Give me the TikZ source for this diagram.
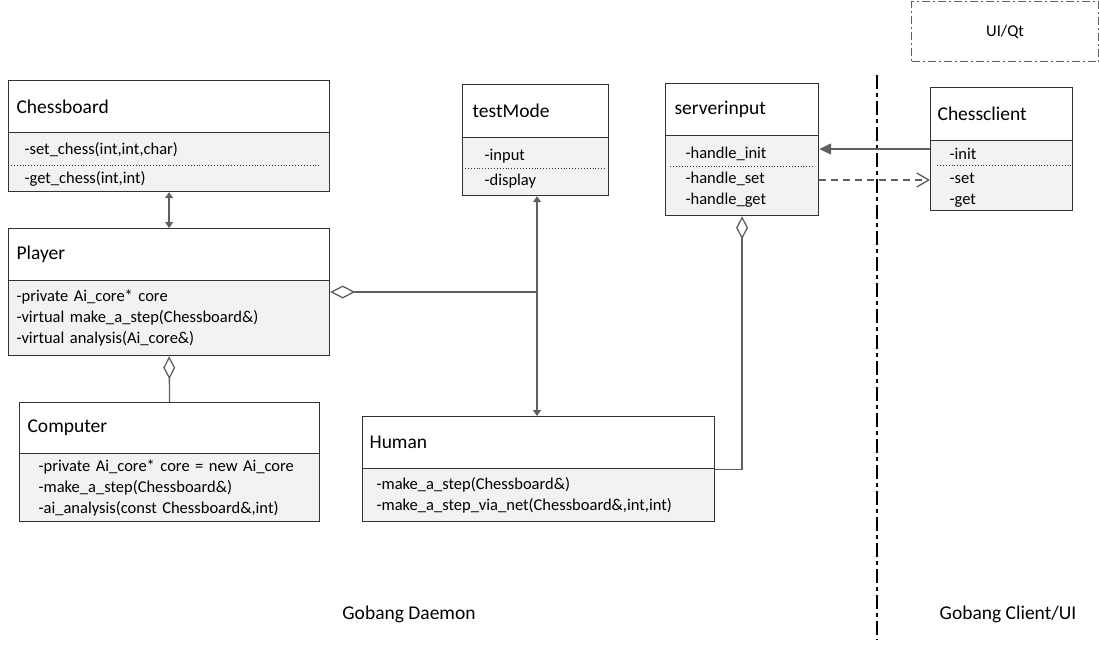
\documentclass[tikz,border=0pt]{standalone}
\usepackage{fontspec}
\setmainfont{Carlito}
\usetikzlibrary{arrows.meta}
\definecolor{edgegray}{RGB}{50,50,50}
\definecolor{linegray}{RGB}{95,95,95}
\definecolor{bodygray}{RGB}{242,242,242}

\begin{document}
\begin{tikzpicture}[x=1pt, y=-1pt,
    classhead/.style={draw=edgegray, fill=white, line width=1.2pt, anchor=north west,
        inner ysep=0pt, align=left, font=\fontsize{19.5}{23}\selectfont},
    classbody/.style={draw=edgegray, fill=bodygray, line width=1.2pt, anchor=north west,
        inner ysep=0pt, align=left, font=\fontsize{16.5}{21}\selectfont},
    sepline/.style={draw=edgegray, dotted, line width=0.9pt},
    link/.style={draw=linegray, line width=1.3pt},
    tip/.style={-{Triangle[length=6pt, width=8pt]}}
]
    \useasboundingbox (0,0) rectangle (1099,646);

    % Chessboard
    \node[classhead, inner xsep=8pt, text width=305pt, minimum height=52pt] (cb-head) at (8,80) {Chessboard};
    \node[classbody, inner xsep=16pt, text width=289pt, minimum height=59pt] (cb-body) at (8,132) {
        \rule{0pt}{17pt}-set\_chess(int,int,char)\\[8pt]
        -get\_chess(int,int)
    };
    \draw[sepline] (8,165) -- (321,165);

    % Player
    \node[classhead, inner xsep=8pt, text width=305pt, minimum height=52pt] (pl-head) at (8,228) {Player};
    \node[classbody, inner xsep=8pt, text width=305pt, minimum height=75pt] (pl-body) at (8,280) {
        -private Ai\_core* core\\
        -virtual make\_a\_step(Chessboard\&)\\
        -virtual analysis(Ai\_core\&)
    };

    % Computer
    \node[classhead, inner xsep=8pt, text width=284pt, minimum height=51pt] (cp-head) at (19,402) {Computer};
    \node[classbody, inner xsep=19pt, text width=262pt, minimum height=68pt] (cp-body) at (19,453) {
        -private Ai\_core* core = new Ai\_core\\
        -make\_a\_step(Chessboard\&)\\
        -ai\_analysis(const Chessboard\&,int)
    };

    % testMode
    \node[classhead, inner xsep=10pt, text width=126pt, minimum height=53pt] (tm-head) at (462,84) {testMode};
    \node[classbody, inner xsep=22pt, text width=102pt, minimum height=58pt] (tm-body) at (462,137) {
        \rule{0pt}{15pt}-input\\[4pt]
        -display
    };
    \draw[sepline] (462,168) -- (605,168);

    % Human
    \node[classhead, inner xsep=7pt, text width=338pt, minimum height=52pt] (hm-head) at (362,416) {Human};
    \node[classbody, inner xsep=14pt, text width=324pt, minimum height=53pt] (hm-body) at (362,468) {
        -make\_a\_step(Chessboard\&)\\
        -make\_a\_step\_via\_net(Chessboard\&,int,int)
    };

    % serverinput
    \node[classhead, inner xsep=9pt, text width=135pt, minimum height=52pt] (si-head) at (665,83) {serverinput};
    \node[classbody, inner xsep=20pt, text width=113pt, minimum height=80pt] (si-body) at (665,135) {
        \rule{0pt}{15pt}-handle\_init\\[3.5pt]
        -handle\_set\\
        -handle\_get
    };
    \draw[sepline] (670,166) -- (815,166);

    % Chessclient
    \node[classhead, inner xsep=7pt, text width=128pt, minimum height=53pt] (cc-head) at (930,87) {Chessclient};
    \node[classbody, inner xsep=19pt, text width=104pt, minimum height=70pt] (cc-body) at (930,140) {
        \rule{0pt}{15pt}-init\\[3pt]
        -set\\
        -get
    };
    \draw[sepline] (937,165) -- (1071,165);

    % UI/Qt
    \node[draw=linegray, line width=1.2pt, dash pattern=on 8pt off 3pt on 2pt off 3pt,
        anchor=north west, minimum width=187pt, minimum height=60pt,
        font=\fontsize{16.5}{20}\selectfont] (uiqt) at (911,1) {UI/Qt};

    % Trennlinie
    \draw[black, line width=1.3pt, dash pattern=on 14pt off 4pt on 4pt off 4pt] (877,75) -- (877,640);

    % Beschriftung
    \node[font=\fontsize{19.5}{23}\selectfont] (daemon) at (409,614) {Gobang Daemon};
    \node[font=\fontsize{19.5}{23}\selectfont] (client) at (1008,614) {Gobang Client/UI};

    % Verbindungen
    \coordinate (jn) at (537,292);
    \coordinate (initrow) at (0,149);
    \coordinate (setrow) at (0,180);
    \draw[link, {Triangle[length=6pt, width=8pt]}-{Triangle[length=6pt, width=8pt]}] (cb-body.south) -- (pl-head.north);
    \draw[link, {Diamond[open, length=23pt, width=12pt]}-] (pl-body.south) -- (cp-head.north);
    \draw[link, {Diamond[open, length=25pt, width=13pt]}-] (pl-body.east |- jn) -- (jn);
    \draw[link, tip] (jn) -- (jn |- tm-body.south);
    \draw[link, tip] (jn) -- (jn |- hm-head.north);
    \draw[link, {Diamond[open, length=23pt, width=12pt]}-] (si-body.south) |- (hm-head.south east);
    \draw[link, -{Triangle[length=12pt, width=11pt]}] (initrow -| cc-body.west) -- (initrow -| si-body.east);
    \draw[link, dash pattern=on 7pt off 5pt, -{Straight Barb[length=12pt, width=14pt]}] (setrow -| si-body.east) -- (setrow -| cc-body.west);
\end{tikzpicture}
\end{document}
